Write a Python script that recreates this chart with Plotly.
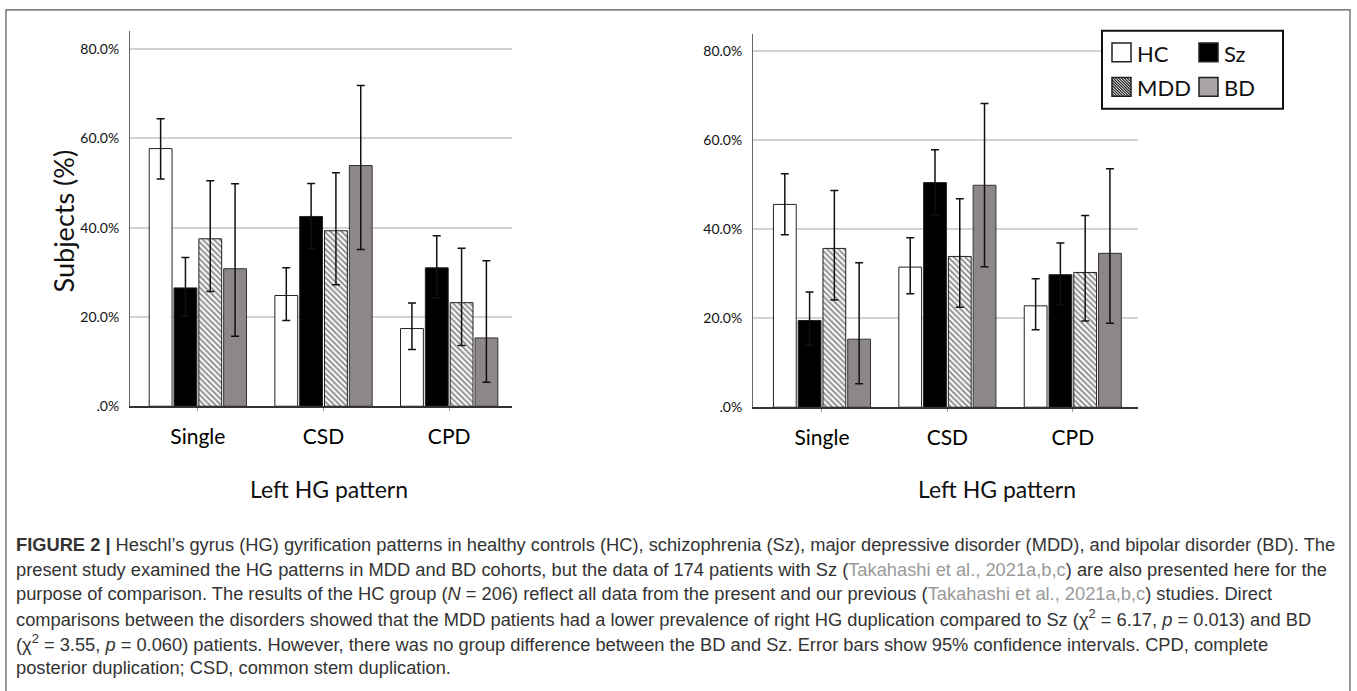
import plotly.graph_objects as go

W, H = 1357, 691

categories = ["Single", "CSD", "CPD"]
groups = ["HC", "Sz", "MDD", "BD"]

# Left panel (values in %)
left_HC = [57.7, 24.8, 17.4]
left_HC_lo = [50.9, 19.2, 12.7]
left_HC_hi = [64.4, 31.0, 23.1]
left_Sz = [26.5, 42.5, 31.0]
left_Sz_lo = [20.2, 35.3, 24.3]
left_Sz_hi = [33.3, 49.9, 38.2]
left_MDD = [37.5, 39.3, 23.2]
left_MDD_lo = [25.7, 27.2, 13.6]
left_MDD_hi = [50.5, 52.3, 35.4]
left_BD = [30.8, 53.9, 15.3]
left_BD_lo = [15.7, 35.1, 5.4]
left_BD_hi = [49.8, 71.8, 32.6]

# Right panel (values in %)
right_HC = [45.6, 31.5, 22.8]
right_HC_lo = [38.8, 25.5, 17.4]
right_HC_hi = [52.5, 38.1, 28.9]
right_Sz = [19.5, 50.5, 29.8]
right_Sz_lo = [14.0, 43.1, 23.0]
right_Sz_hi = [25.9, 57.9, 36.9]
right_MDD = [35.7, 33.9, 30.3]
right_MDD_lo = [24.1, 22.5, 19.4]
right_MDD_hi = [48.7, 46.9, 43.1]
right_BD = [15.3, 49.9, 34.6]
right_BD_lo = [5.3, 31.6, 18.9]
right_BD_hi = [32.5, 68.3, 53.6]

ytick_vals = [0, 20, 40, 60, 80]
ytick_text = [".0%", "20.0%", "40.0%", "60.0%", "80.0%"]

x_title = "Left HG pattern"
y_title = "Subjects (%)"

caption_lines = [
    "<b>FIGURE 2 |</b> Heschl\u2019s gyrus (HG) gyrification patterns in healthy controls (HC), schizophrenia (Sz), major depressive disorder (MDD), and bipolar disorder (BD). The",
    "present study examined the HG patterns in MDD and BD cohorts, but the data of 174 patients with Sz (<span style='color:#9a9a9a'>Takahashi et al., 2021a,b,c</span>) are also presented here for the",
    "purpose of comparison. The results of the HC group (<i>N</i> = 206) reflect all data from the present and our previous (<span style='color:#9a9a9a'>Takahashi et al., 2021a,b,c</span>) studies. Direct",
    "comparisons between the disorders showed that the MDD patients had a lower prevalence of right HG duplication compared to Sz (\u03c7<sup>2</sup> = 6.17, <i>p</i> = 0.013) and BD",
    "(\u03c7<sup>2</sup> = 3.55, <i>p</i> = 0.060) patients. However, there was no group difference between the BD and Sz. Error bars show 95% confidence intervals. CPD, complete",
    "posterior duplication; CSD, common stem duplication.",
]

BD_COLOR = "#8d8787"
styles = {
    "HC": dict(color="white", line=dict(color="#222", width=1)),
    "Sz": dict(color="black", line=dict(color="#222", width=1)),
    "MDD": dict(color="white", line=dict(color="#222", width=1),
                pattern=dict(shape="\\", fgcolor="#222", bgcolor="white", size=4, solidity=0.5)),
    "BD": dict(color=BD_COLOR, line=dict(color="#333", width=1)),
}

panels = [
    ("x", "y", {"HC": (left_HC, left_HC_lo, left_HC_hi), "Sz": (left_Sz, left_Sz_lo, left_Sz_hi),
                "MDD": (left_MDD, left_MDD_lo, left_MDD_hi), "BD": (left_BD, left_BD_lo, left_BD_hi)}),
    ("x2", "y2", {"HC": (right_HC, right_HC_lo, right_HC_hi), "Sz": (right_Sz, right_Sz_lo, right_Sz_hi),
                  "MDD": (right_MDD, right_MDD_lo, right_MDD_hi), "BD": (right_BD, right_BD_lo, right_BD_hi)}),
]

fig = go.Figure()
for xa, ya, data in panels:
    for g in groups:
        vals, lo, hi = data[g]
        fig.add_trace(go.Bar(
            x=categories, y=vals, name=g, xaxis=xa, yaxis=ya, showlegend=False,
            marker=styles[g],
            error_y=dict(type="data", symmetric=False,
                         array=[h - v for h, v in zip(hi, vals)],
                         arrayminus=[v - l for v, l in zip(vals, lo)],
                         color="#111", thickness=1.5, width=4),
        ))


def px(x):
    return x / W


def py(y):
    return 1 - y / H


FONT = "Lato, 'Open Sans', sans-serif"
tick_font = dict(family=FONT, size=14, color="#111")
cat_font = dict(family=FONT, size=21, color="#000")

common_y = dict(range=[0, 84], tickvals=ytick_vals, ticktext=ytick_text, showgrid=True,
                gridcolor="#d2d2d2", gridwidth=2, showline=True, linecolor="#666", linewidth=1,
                zeroline=False, ticks="", tickfont=tick_font, ticklabelstandoff=7, fixedrange=True)
common_x = dict(showline=True, linecolor="#333", linewidth=1.5, ticks="outside", ticklen=3,
                tickcolor="#999", tickwidth=1, tickfont=cat_font, ticklabelstandoff=8,
                fixedrange=True)

fig.update_layout(
    width=W, height=H, margin=dict(l=0, r=0, t=0, b=0),
    paper_bgcolor="white", plot_bgcolor="white",
    barmode="group", bargap=0.21, bargroupgap=0.08,
    xaxis=dict(domain=[px(130), px(512)], anchor="y", range=[-0.54, 2.5], **common_x),
    yaxis=dict(domain=[py(411), py(31.5)], anchor="x", **common_y),
    xaxis2=dict(domain=[px(753), px(1138)], anchor="y2", range=[-0.55, 2.52], **common_x),
    yaxis2=dict(domain=[py(412), py(34)], anchor="x2", **common_y),
    font=dict(family=FONT),
)

annotations = []
# axis titles
annotations.append(dict(text=y_title, x=px(63), y=py(224), xref="paper", yref="paper",
                        xanchor="center", yanchor="middle", textangle=-90, showarrow=False,
                        font=dict(family=FONT, size=27, color="#111")))
for cx in (329, 997):
    annotations.append(dict(text=x_title, x=px(cx), y=py(495), xref="paper", yref="paper",
                            xanchor="center", yanchor="middle", showarrow=False,
                            font=dict(family=FONT, size=23, color="#111")))

# caption
for i, line in enumerate(caption_lines):
    annotations.append(dict(text=line, x=px(14), y=py(551 + 24.8 * i), xref="paper", yref="paper",
                            xanchor="left", yanchor="middle", showarrow=False, align="left",
                            font=dict(family="'Liberation Sans', Arial, sans-serif", size=18.3, color="#333")))

shapes = []
# outer frame
shapes.append(dict(type="rect", xref="paper", yref="paper", x0=px(6), x1=px(1350), y0=py(700), y1=py(10),
                   line=dict(color="#555", width=1.2), fillcolor="rgba(0,0,0,0)", layer="below"))

# custom legend
lx0, lx1, ly0, ly1 = 1102, 1283, 31, 110
shapes.append(dict(type="rect", xref="paper", yref="paper", x0=px(lx0), x1=px(lx1), y0=py(ly1), y1=py(ly0),
                   line=dict(color="#111", width=2), fillcolor="white"))
leg_items = [
    ("HC", 1112, 53, "white"),
    ("Sz", 1199, 53, "black"),
    ("MDD", 1112, 88, "hatch"),
    ("BD", 1199, 88, "#a9a5a5"),
]
sw = 19
leg_font = dict(family=FONT, size=22, color="#111")
for name, sx, sy, fill in leg_items:
    x0, x1, y0, y1 = sx, sx + sw, sy - sw / 2, sy + sw / 2
    fc = "white" if fill == "hatch" else fill
    shapes.append(dict(type="rect", xref="paper", yref="paper", x0=px(x0), x1=px(x1), y0=py(y1), y1=py(y0),
                       line=dict(color="#222", width=1.5), fillcolor=fc))
    if fill == "hatch":
        segs = []
        step = 2.8
        k = -sw
        while k < sw:
            ax, ay, bx, by = 0.0, -k, sw, sw - k
            if ay < 0:
                ax, ay = ax - ay, 0
            if by > sw:
                bx, by = bx - (by - sw), sw
            if ay <= sw and by >= 0 and ax <= sw and bx >= 0:
                segs.append(f"M{px(x0 + ax)},{py(y0 + ay)} L{px(x0 + bx)},{py(y0 + by)}")
            k += step
        shapes.append(dict(type="path", xref="paper", yref="paper", path=" ".join(segs),
                           line=dict(color="#222", width=1.2)))
    annotations.append(dict(text=name, x=px(sx + sw + 4), y=py(sy + 1), xref="paper", yref="paper",
                            xanchor="left", yanchor="middle", showarrow=False, font=leg_font))

fig.update_layout(annotations=annotations, shapes=shapes)

fig.write_html("out.html", config={"displayModeBar": False},
               post_script="document.body.style.margin='0';document.body.style.overflow='hidden';")
